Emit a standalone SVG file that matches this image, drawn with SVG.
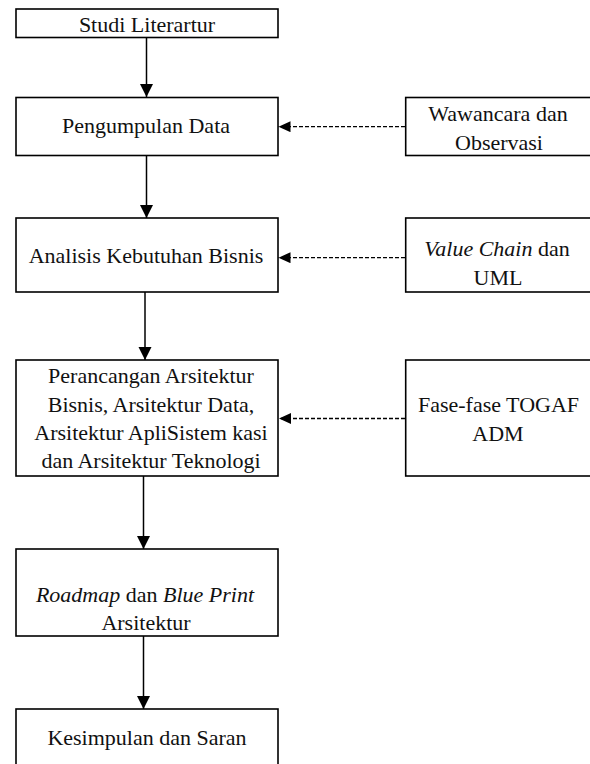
<svg xmlns="http://www.w3.org/2000/svg" width="590" height="764" viewBox="0 0 590 764" font-family="'Liberation Serif', 'DejaVu Serif', serif">
<style>
.box{fill:#fff;stroke:#000;stroke-width:1.6}
.t{font-family:'Liberation Serif','DejaVu Serif',serif;font-size:22px;fill:#111;text-anchor:middle}
.i{font-style:italic}
.solid{stroke:#000;stroke-width:1.5;fill:none}
.dash{stroke:#000;stroke-width:1.3;fill:none;stroke-dasharray:4 2}
</style>
<defs>
<marker id="ah" markerUnits="userSpaceOnUse" markerWidth="14" markerHeight="14" refX="13" refY="6.5" orient="auto">
<path d="M0,0 L13,6.5 L0,13 Z" fill="#000"/>
</marker>
<marker id="ahd" markerUnits="userSpaceOnUse" markerWidth="14" markerHeight="12" refX="12" refY="5.5" orient="auto">
<path d="M0,0 L12,5.5 L0,11 Z" fill="#000"/>
</marker>
</defs>
<g id="connectors">
<line class="solid" x1="146.5" y1="38" x2="146.5" y2="97" marker-end="url(#ah)"/>
<line class="solid" x1="146.5" y1="156" x2="146.5" y2="218" marker-end="url(#ah)"/>
<line class="solid" x1="145" y1="292" x2="145" y2="360" marker-end="url(#ah)"/>
<line class="solid" x1="143.5" y1="476" x2="143.5" y2="549" marker-end="url(#ah)"/>
<line class="solid" x1="143.5" y1="636" x2="143.5" y2="709" marker-end="url(#ah)"/>
<line class="dash" x1="405" y1="126.7" x2="278.5" y2="126.7" marker-end="url(#ahd)"/>
<line class="dash" x1="405" y1="257.7" x2="278.5" y2="257.7" marker-end="url(#ahd)"/>
<line class="dash" x1="405" y1="418.5" x2="279" y2="418.5" marker-end="url(#ahd)"/>
</g>
<g id="studi">
<rect class="box" x="16" y="9" width="262" height="28.5"/>
<text class="t" x="147" y="32">Studi Literartur</text>
</g>
<g id="pengumpulan">
<rect class="box" x="16" y="97.5" width="262" height="58"/>
<text class="t" x="146" y="133">Pengumpulan Data</text>
</g>
<g id="analisis">
<rect class="box" x="16" y="218" width="262" height="74"/>
<text class="t" x="146" y="263">Analisis Kebutuhan Bisnis</text>
</g>
<g id="perancangan">
<rect class="box" x="16" y="360" width="262" height="116"/>
<text class="t" x="151" y="383">Perancangan Arsitektur</text>
<text class="t" x="151" y="412">Bisnis, Arsitektur Data,</text>
<text class="t" x="151" y="440">Arsitektur ApliSistem kasi</text>
<text class="t" x="151" y="468">dan Arsitektur Teknologi</text>
</g>
<g id="roadmap">
<rect class="box" x="16" y="549" width="262" height="87"/>
<text class="t" x="145" y="601.5"><tspan class="i">Roadmap</tspan> dan <tspan class="i">Blue Print</tspan></text>
<text class="t" x="146" y="630">Arsitektur</text>
</g>
<g id="kesimpulan">
<rect class="box" x="16" y="709" width="262" height="70"/>
<text class="t" x="147" y="745">Kesimpulan dan Saran</text>
</g>
<g id="wawancara">
<rect class="box" x="405.7" y="97.5" width="190" height="58"/>
<text class="t" x="498" y="120.5">Wawancara dan</text>
<text class="t" x="499" y="150">Observasi</text>
</g>
<g id="valuechain">
<rect class="box" x="405.7" y="218" width="190" height="74"/>
<text class="t" x="497" y="256"><tspan class="i">Value Chain</tspan> dan</text>
<text class="t" x="498" y="285">UML</text>
</g>
<g id="togaf">
<rect class="box" x="405.7" y="360" width="190" height="116"/>
<text class="t" x="498.5" y="411.5">Fase-fase TOGAF</text>
<text class="t" x="498" y="440.5">ADM</text>
</g>
</svg>
